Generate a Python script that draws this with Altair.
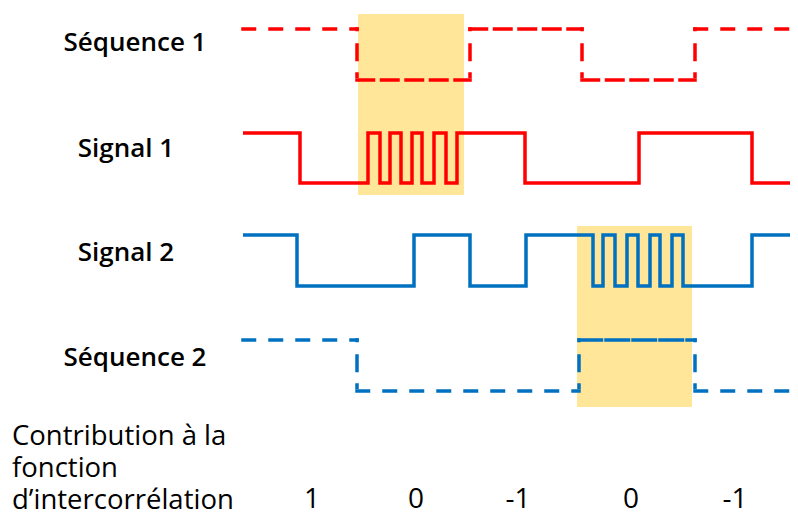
import altair as alt
import pandas as pd

# ---- data (reference pixel units) ----
series_names = ["Séquence 1", "Signal 1", "Signal 2", "Séquence 2"]
series_colors = ["#FF0000", "#FF0000", "#0070C0", "#0070C0"]
row_high = [29, 133, 235, 340]
row_low = [80, 183, 286, 391]

seq1_edges = [243, 357, 470, 582, 695, 798]
seq1_levels = [1, 0, 1, 0, 1]
seq1_styles = ["wide", "tight", "tight", "tight", "wide"]
sig1_edges = [243, 300, 368, 380, 390, 401, 412, 422, 434, 446, 457, 525, 639, 752, 798]
sig1_levels = [1, 0, 1, 0, 1, 0, 1, 0, 1, 0, 1, 0, 1, 0]
sig2_edges = [243, 297, 414, 470, 526, 593, 603, 615, 627, 638, 650, 660, 672, 683, 752, 798]
sig2_levels = [1, 0, 1, 0, 1, 0, 1, 0, 1, 0, 1, 0, 1, 0, 1]
seq2_edges = [243, 357, 579, 695, 798]
seq2_levels = [1, 0, 1, 0]
seq2_styles = ["wide", "wide", "solid", "wide"]

box_x0 = [358, 577]
box_x1 = [464, 692]
box_y0 = [14, 226]
box_y1 = [195, 407]

label_x = [135, 126, 126, 135]
label_y = [51, 157, 261, 366]

contrib_lines = ["Contribution à la", "fonction", "d’intercorrélation"]
contrib_y = [445, 477, 509]
contrib_x = 12

contrib_values = ["1", "0", "-1", "0", "-1"]
contrib_values_x = [312, 416, 518, 631, 735]
contrib_values_y = 508

# visible dash / gap lengths of each dash style
visible_dash = {
    "wide": [15, 12],
    "tight": [20, 4.5],
    "solid": [26, 1],
    "vert": [4, 12, 18, 11, 6],
}
LW = 3.5

# ---- build tables ----
def step_points(name, edges, levels, hi, lo):
    pts = []
    for j, lv in enumerate(levels):
        pts.append({"s": name, "x": edges[j], "y": hi if lv else lo, "o": j})
    pts.append({"s": name, "x": edges[-1], "y": hi if levels[-1] else lo, "o": len(levels)})
    return pts

solid_rows = (step_points("Signal 1", sig1_edges, sig1_levels, row_high[1], row_low[1])
              + step_points("Signal 2", sig2_edges, sig2_levels, row_high[2], row_low[2]))
solid_df = pd.DataFrame(solid_rows)


def segments(name, edges, levels, styles, hi, lo):
    segs = []
    for j, lv in enumerate(levels):
        y = hi if lv else lo
        segs.append({"s": name, "x": edges[j], "x2": edges[j + 1], "y": y, "y2": y,
                     "style": styles[j]})
    for j in range(1, len(levels)):
        segs.append({"s": name, "x": edges[j], "x2": edges[j], "y": hi, "y2": lo,
                     "style": "vert"})
    return segs

dash_df = pd.DataFrame(
    segments("Séquence 1", seq1_edges, seq1_levels, seq1_styles, row_high[0], row_low[0])
    + segments("Séquence 2", seq2_edges, seq2_levels, seq2_styles, row_high[3], row_low[3]))

boxes_df = pd.DataFrame({"x0": box_x0, "x1": box_x1, "y0": box_y0, "y1": box_y1})
labels_df = pd.DataFrame({"t": series_names, "x": label_x, "y": label_y})
contrib_df = pd.DataFrame({"t": contrib_lines, "x": [contrib_x] * 3, "y": contrib_y})
vals_df = pd.DataFrame({"t": contrib_values, "x": contrib_values_x,
                        "y": [contrib_values_y] * len(contrib_values)})

xs = alt.Scale(domain=[8, 790], nice=False, zero=False)
ys = alt.Scale(domain=[8, 517], nice=False, zero=False, reverse=True)

boxes = alt.Chart(boxes_df).mark_rect(color="#FFE699").encode(
    x=alt.X("x0:Q", scale=xs, axis=None), x2="x1:Q",
    y=alt.Y("y0:Q", scale=ys, axis=None), y2="y1:Q")

layers = [boxes]
for name, col in [("Signal 1", series_colors[1]), ("Signal 2", series_colors[2])]:
    layers.append(
        alt.Chart(solid_df[solid_df.s == name]).mark_line(
            interpolate="step-after", color=col, strokeWidth=LW, strokeJoin="miter",
            clip=False).encode(
            x=alt.X("x:Q", scale=xs, axis=None),
            y=alt.Y("y:Q", scale=ys, axis=None),
            order="o:Q"))

for name, col in [("Séquence 1", series_colors[0]), ("Séquence 2", series_colors[3])]:
    sub = dash_df[dash_df.s == name]
    for style in sub["style"].unique():
        vis = visible_dash[style]
        raw = [v - LW if k % 2 == 0 else v + LW for k, v in enumerate(vis)]
        if len(raw) % 2:
            raw = raw + [LW + 60]
        layers.append(
            alt.Chart(sub[sub["style"] == style]).mark_rule(
                color=col, strokeWidth=LW, strokeCap="square", strokeDash=raw).encode(
                x=alt.X("x:Q", scale=xs, axis=None), x2="x2:Q",
                y=alt.Y("y:Q", scale=ys, axis=None), y2="y2:Q"))

font = "Open Sans"
labels = alt.Chart(labels_df).mark_text(
    font=font, fontSize=26, fontWeight=600, align="center", baseline="alphabetic",
    color="#000000").encode(
    x=alt.X("x:Q", scale=xs, axis=None), y=alt.Y("y:Q", scale=ys, axis=None), text="t:N")

contrib = alt.Chart(contrib_df).mark_text(
    font=font, fontSize=27.5, align="left", baseline="alphabetic", color="#000000").encode(
    x=alt.X("x:Q", scale=xs, axis=None), y=alt.Y("y:Q", scale=ys, axis=None), text="t:N")

vals = alt.Chart(vals_df).mark_text(
    font=font, fontSize=28, align="center", baseline="alphabetic", color="#000000").encode(
    x=alt.X("x:Q", scale=xs, axis=None), y=alt.Y("y:Q", scale=ys, axis=None), text="t:N")

layers += [labels, contrib, vals]

chart = alt.layer(*layers).properties(
    width=782, height=509,
    autosize="none",
    padding=0,
).configure_view(stroke=None)

chart.save("out.html", embed_options={"renderer": "svg", "actions": False})
